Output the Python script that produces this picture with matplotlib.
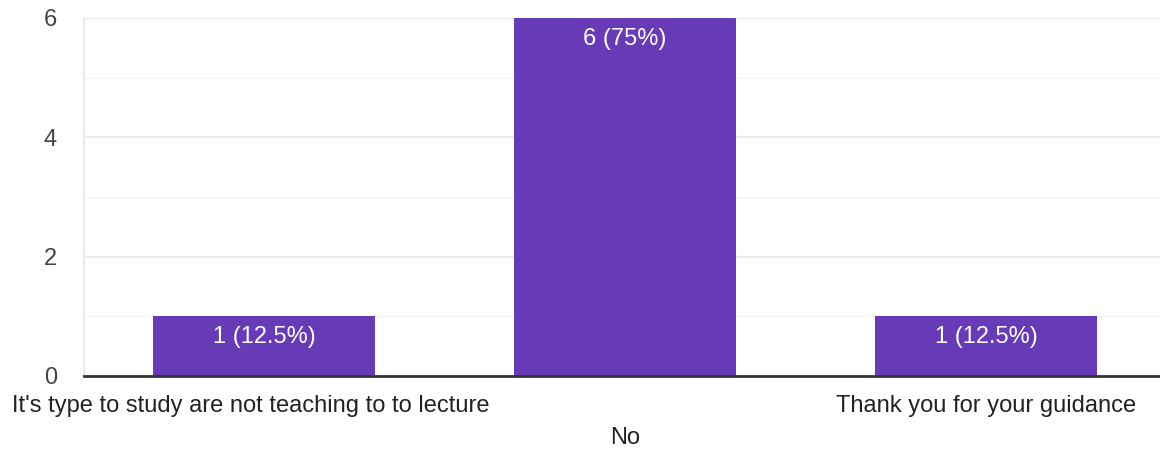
import matplotlib
matplotlib.use("Agg")
import matplotlib.pyplot as plt
import matplotlib.transforms as mtransforms

categories = ["It's type to study are not teaching to to lecture", "No", "Thank you for your guidance"]
counts = [1, 6, 1]
percents = ["12.5%", "75%", "12.5%"]
yticks = [0, 2, 4, 6]

plt.rcParams['font.family'] = ['Liberation Sans', 'DejaVu Sans']

W, H = 1160, 451
fig = plt.figure(figsize=(W / 100, H / 100), dpi=100)
left, right, bottom, top = 83.5, 1166.5, 376, 18
ax = fig.add_axes([left / W, (H - bottom) / H, (right - left) / W, (bottom - top) / H])

bar_color = "#673ab7"
x = list(range(len(categories)))
ax.bar(x, counts, width=0.615, color=bar_color, zorder=3)

ax.set_xlim(-0.5, len(categories) - 0.5)
ax.set_ylim(0, 6)

# gridlines
for v in [1, 3, 5]:
    ax.axhline(v, color="#f3f3f3", lw=1.0, zorder=1)
for v in [2, 4, 6]:
    ax.axhline(v, color="#ebebeb", lw=1.6, zorder=1)

for s in ["top", "right"]:
    ax.spines[s].set_visible(False)
ax.spines["left"].set_color("#ebebeb")
ax.spines["left"].set_linewidth(1.6)
ax.spines["bottom"].set_color("#333333")
ax.spines["bottom"].set_linewidth(2)
ax.spines["bottom"].set_zorder(4)

ax.set_yticks(yticks)
ax.set_yticklabels([str(t) for t in yticks], fontsize=17, color="#444444")
ax.tick_params(axis="y", length=0, pad=19)

ax.set_xticks(x)
ax.set_xticklabels(categories, fontsize=17, color="#222222")
ax.tick_params(axis="x", length=0, pad=13.5)
labels = ax.get_xticklabels()
labels[0].set_transform(labels[0].get_transform() + mtransforms.ScaledTranslation(-13 / 100, 0, fig.dpi_scale_trans))
labels[1].set_transform(labels[1].get_transform() + mtransforms.ScaledTranslation(0, -32 / 100, fig.dpi_scale_trans))

for xi, c, p in zip(x, counts, percents):
    ax.annotate(f"{c} ({p})", xy=(xi, c), xytext=(0, -21), textcoords="offset pixels",
                ha="center", va="center", color="white", fontsize=17, zorder=5)

fig.savefig("out.png", dpi=100)
